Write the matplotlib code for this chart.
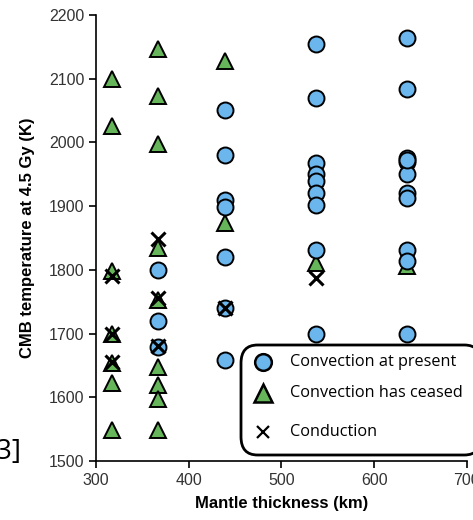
import matplotlib.pyplot as plt
from matplotlib.patches import FancyBboxPatch
from matplotlib.lines import Line2D

# mantle thickness columns (km)
x_present = [439, 439, 439, 439, 439, 439, 439,
             537, 537, 537, 537, 537, 537, 537, 537, 537,
             635, 635, 635, 635, 635, 635, 635, 635, 635, 635, 635,
             367, 367, 367]
t_present = [2050, 1980, 1910, 1898, 1820, 1740, 1658,
             2155, 2069, 1967, 1950, 1939, 1920, 1902, 1831, 1700,
             2164, 2084, 1975, 1969, 1950, 1920, 1913, 1831, 1814, 1700, 1972,
             1800, 1720, 1679]

x_ceased = [317, 317, 317, 317, 317, 317, 317,
            367, 367, 367, 367, 367, 367, 367, 367, 367,
            439, 439, 537, 635]
t_ceased = [2100, 2025, 1798, 1700, 1653, 1623, 1549,
            2147, 2072, 1997, 1834, 1752, 1647, 1619, 1598, 1549,
            2127, 1873, 1810, 1806]

x_cond = [317, 317, 317, 367, 367, 367, 439, 537]
t_cond = [1790, 1700, 1655, 1848, 1755, 1680, 1740, 1787]

labels = ["Convection at present", "Convection has ceased", "Conduction"]

BLUE = "#6cb6ee"
GREEN = "#66b55a"

fig = plt.figure(figsize=(4.73, 5.2), dpi=100)
ax = fig.add_axes([0.203, 0.1135, 0.784, 0.858])

ax.plot(x_ceased, t_ceased, ls="none", marker="^", ms=11, mfc=GREEN,
        mec="black", mew=1.4, zorder=3)
ax.plot(x_present, t_present, ls="none", marker="o", ms=11.5, mfc=BLUE,
        mec="black", mew=1.4, zorder=4)
ax.plot(x_cond, t_cond, ls="none", marker="x", ms=10, mec="black",
        mew=2.2, zorder=5)

ax.set_xlim(300, 700)
ax.set_ylim(1500, 2200)
ax.set_xticks([300, 400, 500, 600, 700])
ax.set_yticks([1500, 1600, 1700, 1800, 1900, 2000, 2100, 2200])
ax.spines["top"].set_visible(False)
ax.spines["right"].set_visible(False)
ax.tick_params(direction="out", length=5, width=1.2, labelsize=11.5,
               labelcolor="#333333")
for s in ["left", "bottom"]:
    ax.spines[s].set_linewidth(1.2)
ax.set_xlabel("Mantle thickness (km)", fontsize=12, fontweight="bold",
              fontfamily="Liberation Sans", labelpad=6)
ax.set_ylabel("CMB temperature at 4.5 Gy (K)", fontsize=12, fontweight="bold",
              fontfamily="Liberation Sans", labelpad=10)
for lab in ax.get_xticklabels() + ax.get_yticklabels():
    lab.set_fontfamily("Liberation Sans")

# overlaid legend box, drawn by hand (rows are unevenly spaced)
W, H = 473, 520
box = FancyBboxPatch((241 / W, 1 - 455 / H), 240 / W, 110 / H,
                     boxstyle="round,pad=0,rounding_size=0.035",
                     transform=fig.transFigure, fc="white", ec="black",
                     lw=2, zorder=10)
fig.add_artist(box)
row_y = [362, 393, 432]
styles = [
    dict(marker="o", ms=12, mfc=BLUE, mec="black", mew=1.8),
    dict(marker="^", ms=12.5, mfc=GREEN, mec="black", mew=1.8),
    dict(marker="x", ms=9, mec="black", mew=1.6),
]
for y, st, lab in zip(row_y, styles, labels):
    fig.add_artist(Line2D([263 / W], [1 - y / H], ls="none",
                          transform=fig.transFigure, zorder=11, **st))
    fig.text(290 / W, 1 - y / H, lab, fontsize=11.7, va="center",
             ha="left", fontfamily="Open Sans", zorder=11)

fig.text(22 / W, 1 - 452 / H, "[3]", fontsize=20, ha="right",
         va="center", fontfamily="Open Sans")

fig.savefig("out.png", dpi=100)
